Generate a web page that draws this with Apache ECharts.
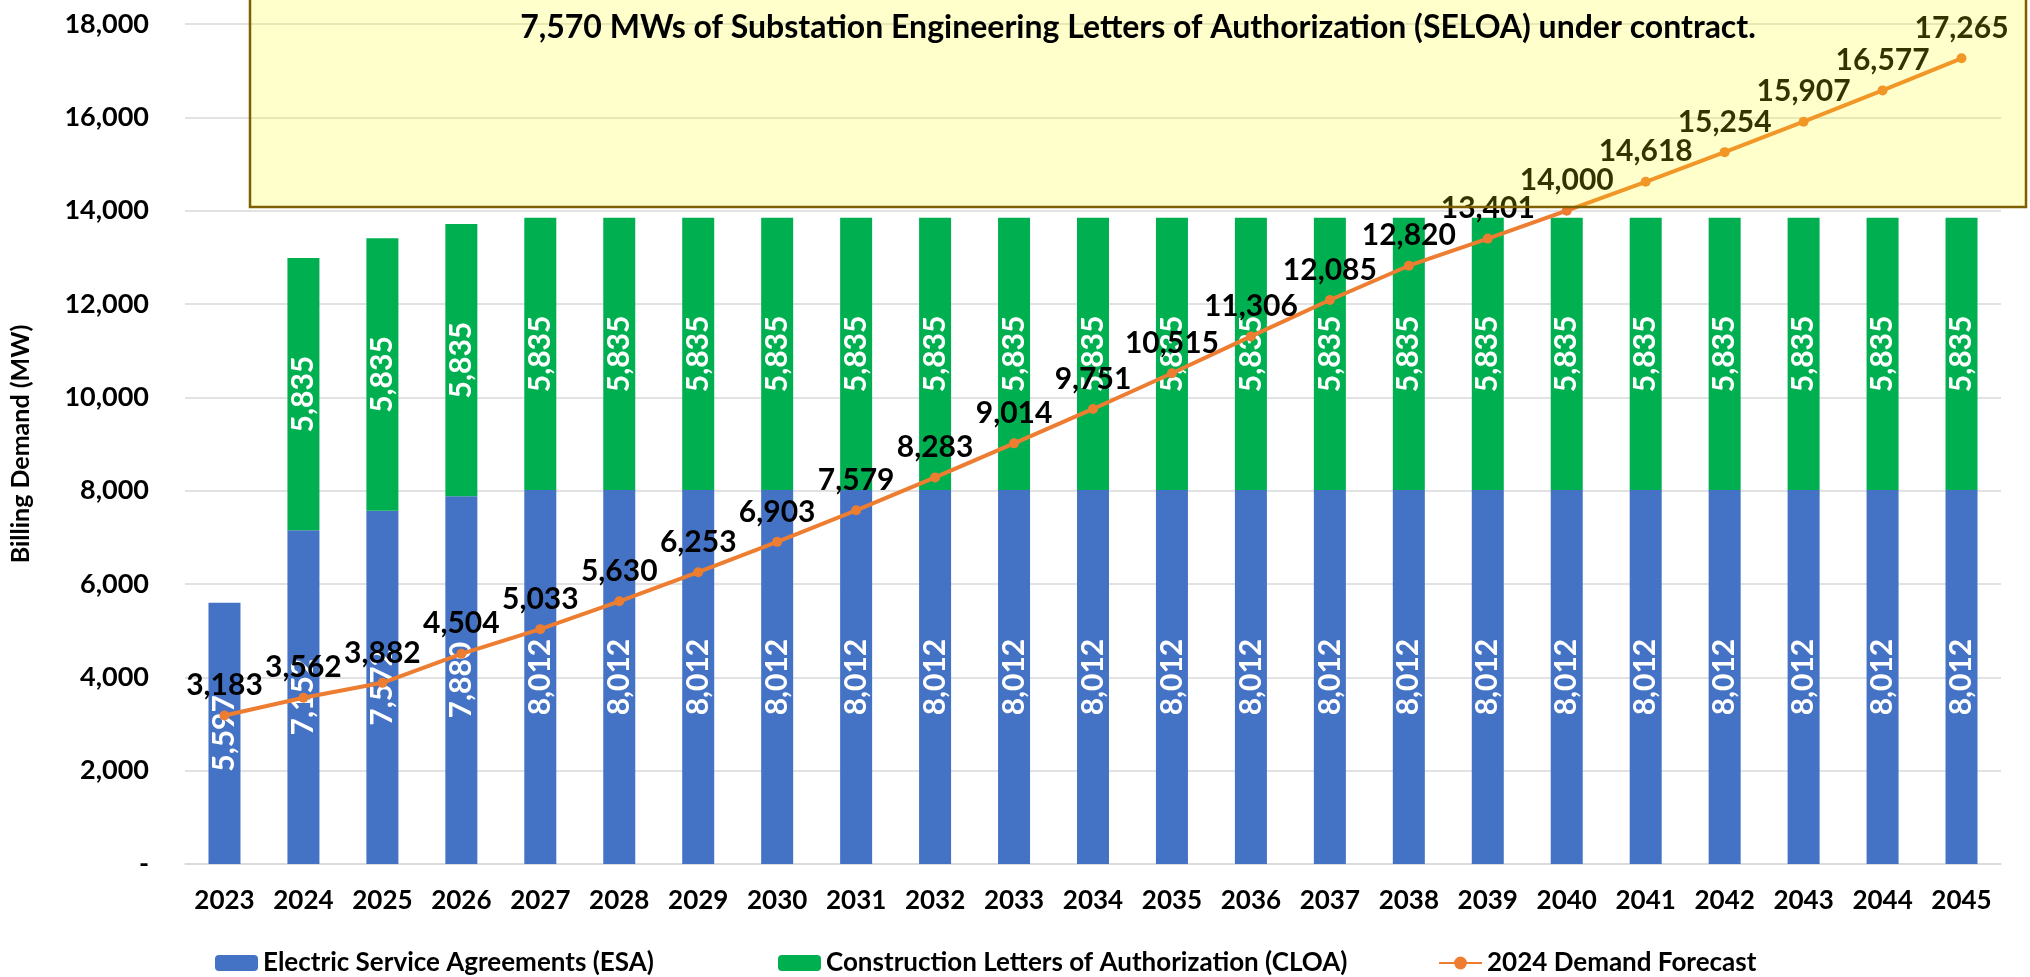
<!DOCTYPE html>
<html lang="en">
  <head>
    <meta charset="UTF-8" />
    <title>Billing Demand</title>
    <script src="https://cdn.jsdelivr.net/npm/echarts@6/dist/echarts.min.js"></script>
  </head>
  <style>
    html,
    body {
      margin: 0;
      padding: 0;
      background: #fff;
    }
    #echart {
      width: 2030px;
      height: 977px;
    }
  </style>
  <body>
    <div id="echart"></div>
  </body>
  <script>
    const years = ["2023", "2024", "2025", "2026", "2027", "2028", "2029", "2030", "2031", "2032", "2033", "2034",
      "2035", "2036", "2037", "2038", "2039", "2040", "2041", "2042", "2043", "2044", "2045"];
    const esa = [5597, 7152, 7572, 7880, 8012, 8012, 8012, 8012, 8012, 8012, 8012, 8012,
      8012, 8012, 8012, 8012, 8012, 8012, 8012, 8012, 8012, 8012, 8012];
    const cloa = [null, 5835, 5835, 5835, 5835, 5835, 5835, 5835, 5835, 5835, 5835, 5835,
      5835, 5835, 5835, 5835, 5835, 5835, 5835, 5835, 5835, 5835, 5835];
    const forecast = [3183, 3562, 3882, 4504, 5033, 5630, 6253, 6903, 7579, 8283, 9014, 9751,
      10515, 11306, 12085, 12820, 13401, 14000, 14618, 15254, 15907, 16577, 17265];
    const yTicks = { min: 0, max: 18000, interval: 2000 };
    const boxText = "7,570 MWs of Substation Engineering Letters of Authorization (SELOA) under contract.";

    const font = "Lato, 'Noto Sans', sans-serif";
    const fmt = (v) => (v === 0 ? "-" : Number(v).toLocaleString("en-US"));

    const chart = echarts.init(document.getElementById("echart"));

    const barLabel = {
      show: true,
      position: "inside",
      rotate: 90,
      color: "#fff",
      fontFamily: font,
      fontWeight: "bold",
      fontSize: 30,
      formatter: (p) => fmt(p.value),
    };

    const legendText = { color: "#000", fontFamily: font, fontWeight: "bold", fontSize: 26 };

    const option = {
      animation: false,
      grid: { left: 176, right: 29, top: 24, bottom: 113 },
      legend: [
        { data: ["Electric Service Agreements (ESA)"], left: 210, top: 945, itemWidth: 43, itemHeight: 16, textStyle: legendText },
        { data: ["Construction Letters of Authorization (CLOA)"], left: 773, top: 945, itemWidth: 43, itemHeight: 16, textStyle: legendText },
        { data: ["2024 Demand Forecast"], left: 1433, top: 945, itemWidth: 43, itemHeight: 16, textStyle: legendText },
      ],
      xAxis: {
        type: "category",
        data: years,
        axisTick: { show: false },
        axisLine: { lineStyle: { color: "#d9d9d9", width: 1.5 } },
        axisLabel: { interval: 0, color: "#000", fontFamily: font, fontWeight: "bold", fontSize: 26, margin: 24 },
      },
      yAxis: {
        type: "value",
        min: yTicks.min,
        max: yTicks.max,
        interval: yTicks.interval,
        name: "Billing Demand (MW)",
        nameLocation: "middle",
        nameRotate: 90,
        nameGap: 152,
        nameTextStyle: { color: "#000", fontFamily: font, fontWeight: "bold", fontSize: 25 },
        splitLine: { lineStyle: { color: "#d9d9d9", width: 1.5 } },
        axisLabel: { color: "#000", fontFamily: font, fontWeight: "bold", fontSize: 27, margin: 36, formatter: fmt },
      },
      series: [
        {
          name: "Electric Service Agreements (ESA)",
          type: "bar",
          stack: "total",
          barWidth: 32,
          itemStyle: { color: "#4472c4" },
          label: barLabel,
          data: esa,
        },
        {
          name: "Construction Letters of Authorization (CLOA)",
          type: "bar",
          stack: "total",
          barWidth: 32,
          itemStyle: { color: "#00b050" },
          label: barLabel,
          data: cloa,
        },
        {
          name: "2024 Demand Forecast",
          type: "line",
          symbol: "circle",
          symbolSize: 10,
          lineStyle: { color: "#ed7d31", width: 4 },
          itemStyle: { color: "#ed7d31" },
          z: 5,
          label: {
            show: true,
            position: "top",
            distance: 10,
            color: "#000",
            fontFamily: font,
            fontWeight: "bold",
            fontSize: 30,
            formatter: (p) => fmt(p.value),
          },
          data: forecast,
        },
      ],
      graphic: [
        {
          type: "rect",
          z: 100,
          shape: { x: 250, y: -10, width: 1776, height: 217 },
          style: { fill: "rgba(255,255,0,0.2)", stroke: "#7f6000", lineWidth: 2.5 },
        },
        {
          type: "text",
          z: 101,
          x: 1138,
          y: 28,
          style: {
            text: boxText,
            fill: "#000",
            font: "bold 32px " + font,
            align: "center",
            verticalAlign: "middle",
          },
        },
      ],
    };

    chart.setOption(option);
  </script>
</html>
